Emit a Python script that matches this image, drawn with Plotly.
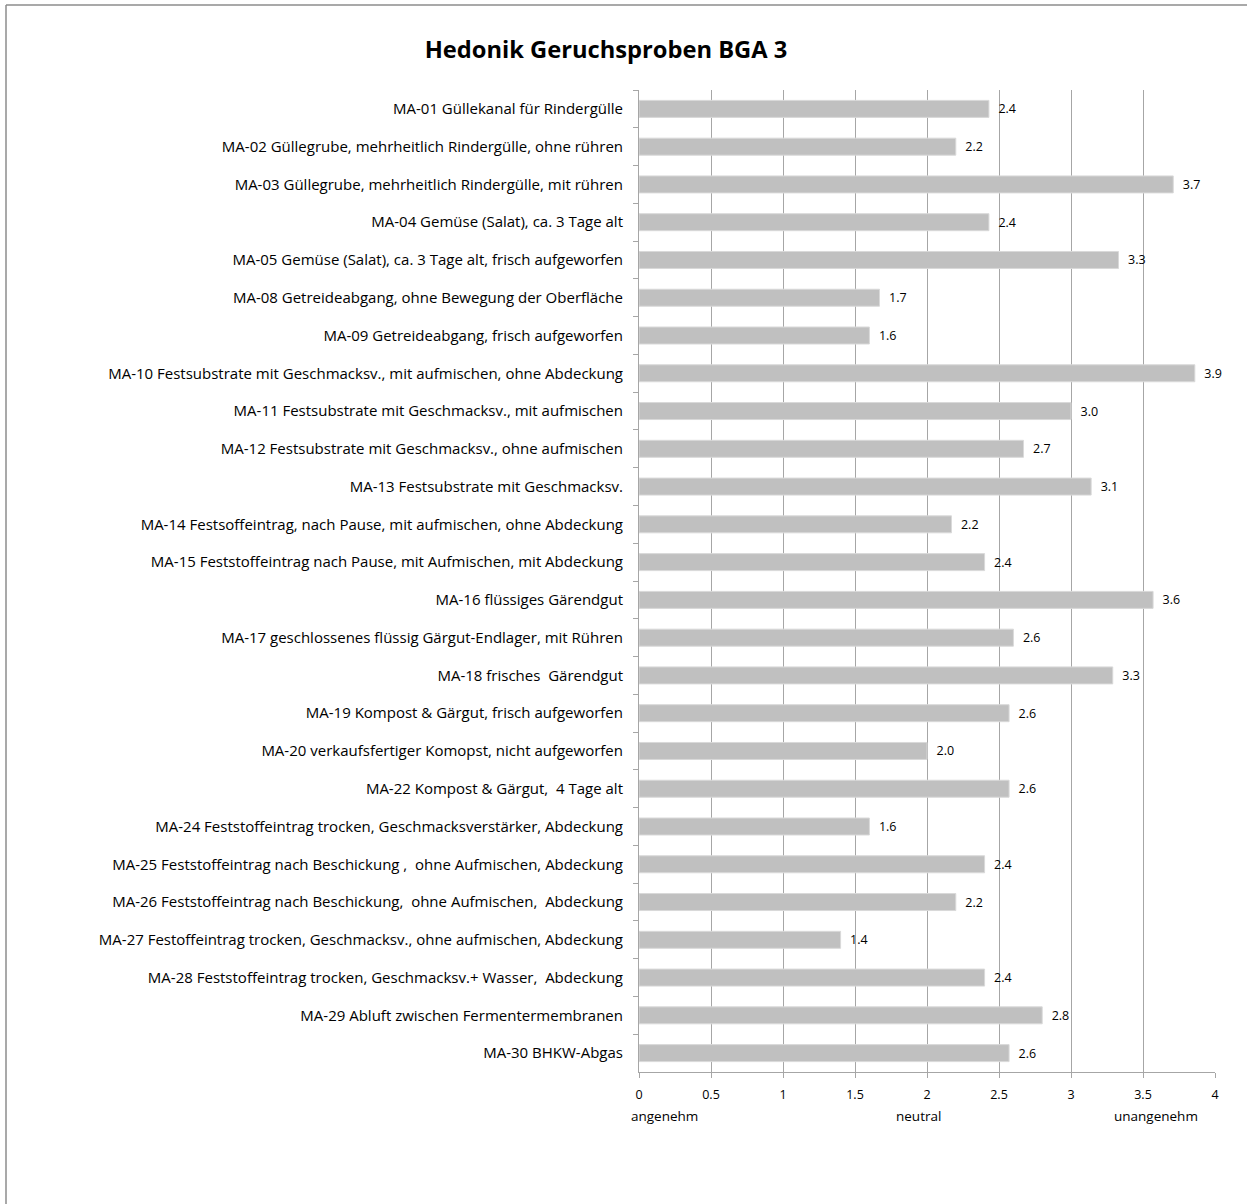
import plotly.graph_objects as go

categories = [
    "MA-01 Güllekanal für Rindergülle",
    "MA-02 Güllegrube, mehrheitlich Rindergülle, ohne rühren",
    "MA-03 Güllegrube, mehrheitlich Rindergülle, mit rühren",
    "MA-04 Gemüse (Salat), ca. 3 Tage alt",
    "MA-05 Gemüse (Salat), ca. 3 Tage alt, frisch aufgeworfen",
    "MA-08 Getreideabgang, ohne Bewegung der Oberfläche",
    "MA-09 Getreideabgang, frisch aufgeworfen",
    "MA-10 Festsubstrate mit Geschmacksv., mit aufmischen, ohne Abdeckung",
    "MA-11 Festsubstrate mit Geschmacksv., mit aufmischen",
    "MA-12 Festsubstrate mit Geschmacksv., ohne aufmischen",
    "MA-13 Festsubstrate mit Geschmacksv.",
    "MA-14 Festsoffeintrag, nach Pause, mit aufmischen, ohne Abdeckung",
    "MA-15 Feststoffeintrag nach Pause, mit Aufmischen, mit Abdeckung",
    "MA-16 flüssiges Gärendgut",
    "MA-17 geschlossenes flüssig Gärgut-Endlager, mit Rühren",
    "MA-18 frisches  Gärendgut",
    "MA-19 Kompost & Gärgut, frisch aufgeworfen",
    "MA-20 verkaufsfertiger Komopst, nicht aufgeworfen",
    "MA-22 Kompost & Gärgut,  4 Tage alt",
    "MA-24 Feststoffeintrag trocken, Geschmacksverstärker, Abdeckung",
    "MA-25 Feststoffeintrag nach Beschickung ,  ohne Aufmischen, Abdeckung",
    "MA-26 Feststoffeintrag nach Beschickung,  ohne Aufmischen,  Abdeckung",
    "MA-27 Festoffeintrag trocken, Geschmacksv., ohne aufmischen, Abdeckung",
    "MA-28 Feststoffeintrag trocken, Geschmacksv.+ Wasser,  Abdeckung",
    "MA-29 Abluft zwischen Fermentermembranen",
    "MA-30 BHKW-Abgas",
]

values = [
    2.43, 2.20, 3.71, 2.43, 3.33, 1.67, 1.60, 3.86, 3.00, 2.67, 3.14, 2.17, 2.40,
    3.57, 2.60, 3.29, 2.57, 2.00, 2.57, 1.60, 2.40, 2.20, 1.40, 2.40, 2.80, 2.57,
]

x_ticks = [0, 0.5, 1, 1.5, 2, 2.5, 3, 3.5, 4]
x_tick_labels = ["0", "0.5", "1", "1.5", "2", "2.5", "3", "3.5", "4"]

scale_labels = ["angenehm", "neutral", "unangenehm"]
scale_pos = [0.045, 0.485, 0.897]

title_text = "Hedonik Geruchsproben BGA 3"

FONT = "Open Sans"
W, H = 1247, 1204
L, R, T, B = 639, 1215, 90, 1072

fig = go.Figure()
fig.add_trace(go.Bar(
    x=values,
    y=categories,
    orientation="h",
    marker=dict(color="#c0c0c0", line=dict(color="#d9d9d9", width=1)),
    text=[f"\u00a0\u00a0{v:.1f}" for v in values],
    textposition="outside",
    textfont=dict(family=FONT, size=12.5, color="#000000"),
    cliponaxis=False,
))

fig.update_layout(
    width=W, height=H,
    margin=dict(l=L, r=W - R, t=T, b=H - B, autoexpand=False),
    paper_bgcolor="white",
    plot_bgcolor="white",
    showlegend=False,
    bargap=0.55,
    title=dict(
        text=f"<b>{title_text}</b>",
        x=606 / W, xanchor="center", xref="container",
        y=1 - 50 / H, yanchor="middle", yref="container",
        font=dict(family=FONT, size=23.7, color="#000000"),
    ),
    font=dict(family=FONT, size=15, color="#000000"),
)

fig.update_xaxes(
    range=[0, 4],
    tickvals=x_ticks,
    ticktext=x_tick_labels,
    showgrid=True,
    gridcolor="#a6a6a6",
    gridwidth=1,
    zeroline=False,
    showline=True,
    linecolor="#a6a6a6",
    linewidth=1,
    ticks="outside",
    ticklen=5,
    tickcolor="#a6a6a6",
    tickfont=dict(family=FONT, size=12.5, color="#000000"),
    ticklabelstandoff=6,
    mirror=False,
)

fig.update_yaxes(
    categoryorder="array",
    categoryarray=categories,
    autorange="reversed",
    showgrid=False,
    showline=True,
    linecolor="#a6a6a6",
    linewidth=1,
    ticks="outside",
    tickson="boundaries",
    ticklen=5,
    tickcolor="#a6a6a6",
    tickfont=dict(family=FONT, size=15, color="#000000"),
    ticklabelstandoff=12,
)

for lab, pos in zip(scale_labels, scale_pos):
    fig.add_annotation(
        text=lab, x=pos, y=(B - 1116) / (B - T),
        xref="paper", yref="paper", showarrow=False,
        xanchor="center", yanchor="middle",
        font=dict(family=FONT, size=13.5, color="#000000"),
    )

# outer chart border (top and left visible in view)
bx0 = (6 - L) / (R - L)
by1 = (B - 5) / (B - T)
fig.add_shape(type="line", xref="paper", yref="paper",
              x0=bx0, x1=(W + 10 - L) / (R - L), y0=by1, y1=by1,
              line=dict(color="#8c8c8c", width=1.5))
fig.add_shape(type="line", xref="paper", yref="paper",
              x0=bx0, x1=bx0, y0=by1, y1=(B - H - 10) / (B - T),
              line=dict(color="#8c8c8c", width=1.5))

fig.write_html("out.html")
